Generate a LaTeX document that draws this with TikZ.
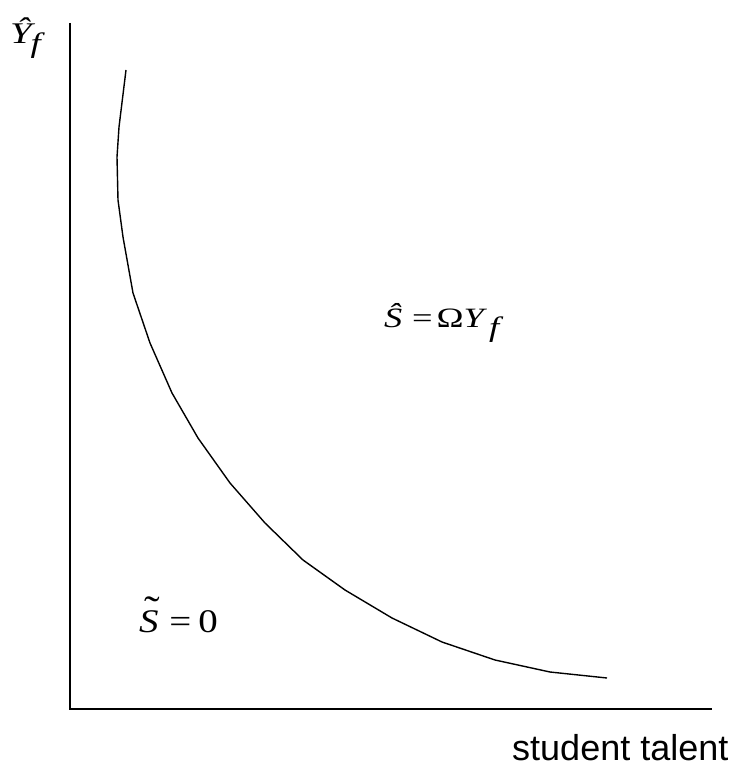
\documentclass[tikz,border=0pt]{standalone}
\usepackage{fontspec}
\usepackage{graphicx}
\setmainfont{Liberation Serif}
\newfontfamily\labelsans{Liberation Sans}
\newcommand{\tildeacc}[1]{\makebox[0pt][l]{\hspace{4.5pt}\raisebox{8.5pt}{\upshape\scalebox{1.2}{\char"02DC}}}#1}
\begin{document}
\begin{tikzpicture}[x=1pt,y=-1pt,
  axisline/.style={line width=1.8pt},
  curveline/.style={line width=1.4pt,line join=round},
  mathlbl/.style={anchor=base west,inner sep=0pt},
  sanslbl/.style={anchor=base west,inner sep=0pt,font=\labelsans\fontsize{36}{40}\selectfont}]
\useasboundingbox (0,0) rectangle (737,775);
\coordinate (top) at (70,23);
\coordinate (origin) at (70,709);
\coordinate (right) at (712,709);
\draw[axisline] (top) -- (origin) -- (right);
\coordinate (c0) at (126,70);
\coordinate (c1) at (607,678);
\draw[curveline] (c0) -- (119,127) -- (117,157) -- (118,200) -- (123,237) -- (133,293) -- (150,343) -- (172,393) -- (198,438) -- (230,483) -- (265,523) -- (303,560) -- (345,590) -- (392,618) -- (442,642) -- (495,660) -- (550,672) -- (c1);
\node[mathlbl] (ylab) at (10,44) {\scalebox{1.3}[1]{\fontsize{30}{34}\selectfont\itshape Ŷ\hspace{-1pt}\raisebox{-0.3em}{\fontsize{28}{32}\selectfont f}}};
\node[mathlbl] (shat) at (384,327) {\scalebox{1.3}[1]{\fontsize{28}{32}\selectfont\itshape Ŝ\hspace{7.5pt}\upshape =\hspace{3pt}Ω\itshape Y\hspace{4pt}\raisebox{-0.33em}{f}}};
\node[mathlbl] (stil) at (139,632) {\scalebox{1.18}[1]{\fontsize{33}{38}\selectfont\itshape \tildeacc{S}\hspace{9pt}\upshape =\hspace{6pt}0}};
\node[sanslbl] (xlab) at (512,760) {student talent};
\end{tikzpicture}
\end{document}
